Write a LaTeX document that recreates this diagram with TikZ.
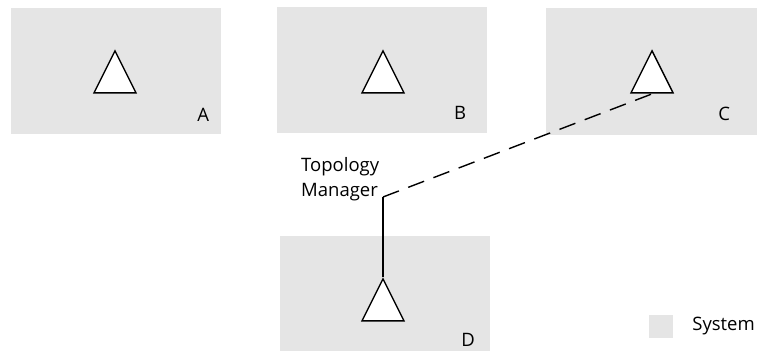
\documentclass[tikz,border=0pt]{standalone}
\usepackage{fontspec}
\setmainfont{Open Sans}
\usepackage{xcolor}
\usepackage{tikz}
\usetikzlibrary{positioning,shapes.geometric,calc}

\begin{document}
\begin{tikzpicture}[
  x=1pt,y=-1pt,
  every node/.style={font=\fontsize{18.5}{25}\selectfont},
  sys/.style={rectangle,fill=black!10,inner sep=0pt,minimum width=210pt,minimum height=126pt},
  tri/.style={isosceles triangle,isosceles triangle stretches,shape border rotate=90,draw,fill=white,line width=1.4pt,inner sep=0pt,minimum width=42pt,minimum height=42pt,anchor=apex},
  tag/.style={inner sep=0pt,anchor=center},
  conn/.style={line width=1.4pt}
]
\useasboundingbox (0,0) rectangle (757,361);

% systems
\node[sys] (sa) at (116,71) {};
\node[sys] (sb) at (382,70) {};
\node[sys,minimum width=211pt] (sc) at (651.5,71.5) {};
\node[sys,minimum height=115pt] (sd) at (385,293.5) {};

\node[tag] (la) at ([xshift=-18pt,yshift=19.5pt]sa.south east) {A};
\node[tag] (lb) at ([xshift=-27pt,yshift=20pt]sb.south east) {B};
\node[tag] (lc) at ([xshift=-33pt,yshift=21pt]sc.south east) {C};
\node[tag] (ld) at ([xshift=-22pt,yshift=11.5pt]sd.south east) {D};

% triangles
\node[tri] (ta) at (115,49) {};
\node[tri] (tb) at (383,49) {};
\node[tri] (tc) at (652,49) {};
\node[tri] (td) at (383,277) {};

% topology manager
\node[anchor=north west,align=left,inner sep=0pt] (mgr) at (301,157) {Topology\\Manager};
\coordinate (hook) at (383,197);
\draw[conn] (td.apex) -- (hook);
\draw[conn,dash pattern=on 17pt off 10pt] (hook) -- ([xshift=1pt]tc.south);

% legend
\node[rectangle,fill=black!10,minimum width=24pt,minimum height=23pt,inner sep=0pt] (key) at (661,326.5) {};
\node[right=19pt of key,inner sep=0pt] (keytext) {System};
\end{tikzpicture}
\end{document}
